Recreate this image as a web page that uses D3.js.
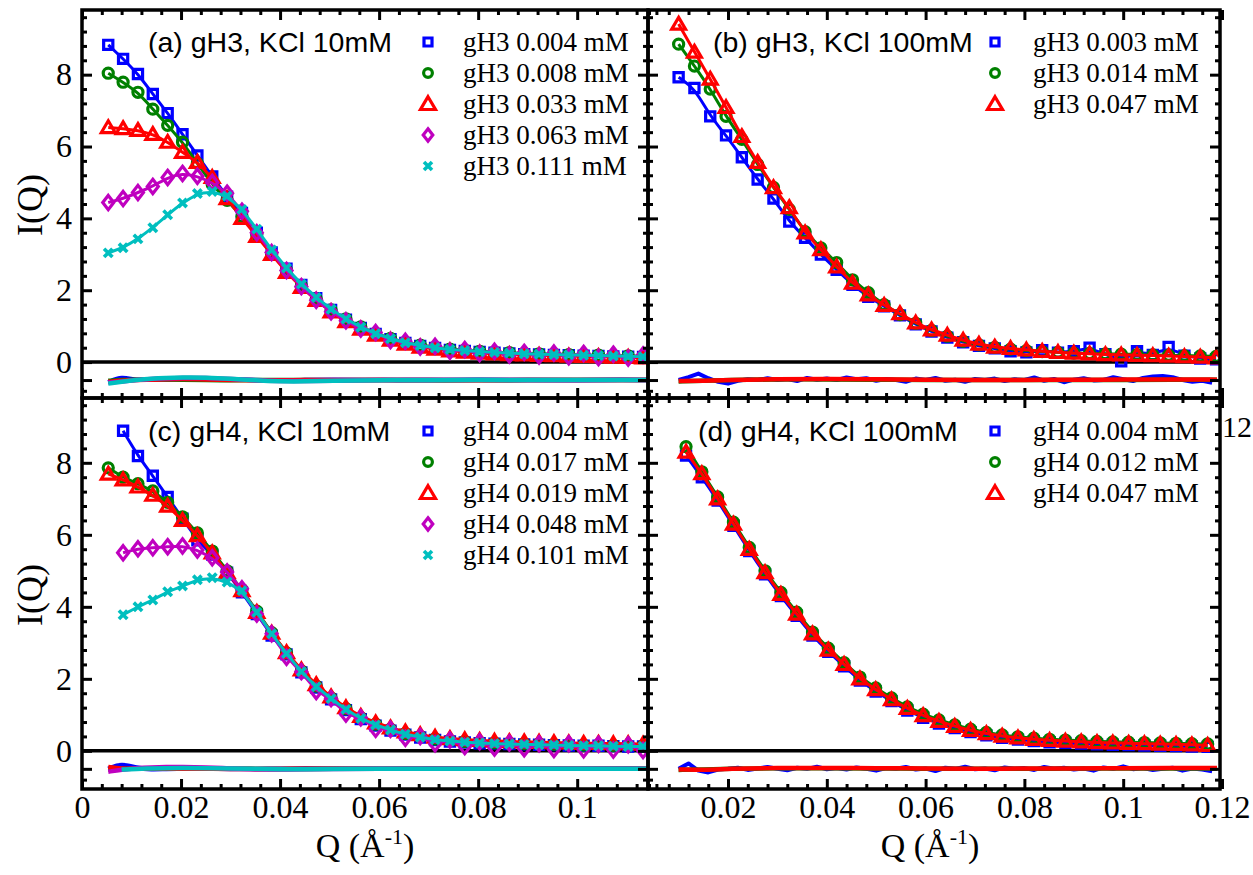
<!DOCTYPE html>
<html>
<head>
<meta charset="utf-8">
<script src="https://cdn.jsdelivr.net/npm/d3@7"></script>
<style>
  body { margin: 0; background: #fff; }
  svg { display: block; }
</style>
</head>
<body>
<svg id="chart" width="1253" height="875"></svg>
<script>
// ---- Q grids ----
const qLeft = [0.0053, 0.0083, 0.0113, 0.0143, 0.0173, 0.0203, 0.0233, 0.0263, 0.0293, 0.0323,
  0.0353, 0.0383, 0.0413, 0.0443, 0.0473, 0.0503, 0.0533, 0.0563, 0.0593, 0.0623,
  0.0653, 0.0683, 0.0713, 0.0743, 0.0773, 0.0803, 0.0833, 0.0863, 0.0893, 0.0923,
  0.0953, 0.0983, 0.1013, 0.1043, 0.1073, 0.1103, 0.1133];
const qRightB = [0.0100, 0.0132, 0.0164, 0.0196, 0.0228, 0.0260, 0.0292, 0.0324, 0.0356, 0.0388,
  0.0420, 0.0452, 0.0484, 0.0516, 0.0548, 0.0580, 0.0612, 0.0644, 0.0676, 0.0708,
  0.0740, 0.0772, 0.0804, 0.0836, 0.0868, 0.0900, 0.0932, 0.0964, 0.0996, 0.1028,
  0.1060, 0.1092, 0.1124, 0.1156, 0.1188];
const qRightD = [0.0115, 0.0147, 0.0179, 0.0211, 0.0243, 0.0275, 0.0307, 0.0339, 0.0371, 0.0403,
  0.0435, 0.0467, 0.0499, 0.0531, 0.0563, 0.0595, 0.0627, 0.0659, 0.0691, 0.0723,
  0.0755, 0.0787, 0.0819, 0.0851, 0.0883, 0.0915, 0.0947, 0.0979, 0.1011, 0.1043,
  0.1075, 0.1107, 0.1139, 0.1171];
const resQLeft = [0.0053, 0.008, 0.011, 0.014, 0.017, 0.02, 0.025, 0.03, 0.035, 0.04,
  0.045, 0.05, 0.06, 0.07, 0.08, 0.09, 0.1, 0.11, 0.1143];
const resQRightFine = [0.010, 0.012, 0.014, 0.016, 0.018, 0.020, 0.022, 0.024, 0.026, 0.028,
  0.030, 0.032, 0.034, 0.036, 0.038, 0.040, 0.042, 0.044, 0.046, 0.048,
  0.050, 0.052, 0.054, 0.056, 0.058, 0.060, 0.062, 0.064, 0.066, 0.068,
  0.070, 0.072, 0.074, 0.076, 0.078, 0.080, 0.082, 0.084, 0.086, 0.088,
  0.090, 0.092, 0.094, 0.096, 0.098, 0.100, 0.102, 0.104, 0.106, 0.108,
  0.110, 0.112, 0.114, 0.116, 0.118];
const resQRightCoarse = [0.010, 0.015, 0.02, 0.03, 0.04, 0.05, 0.06, 0.07, 0.08, 0.09, 0.1, 0.11, 0.119];

// ---- text ----
const titles = ['(a) gH3, KCl 10mM', '(b) gH3, KCl 100mM', '(c) gH4, KCl 10mM', '(d) gH4, KCl 100mM'];
const labelsA = ['gH3 0.004 mM', 'gH3 0.008 mM', 'gH3 0.033 mM', 'gH3 0.063 mM', 'gH3 0.111 mM'];
const labelsB = ['gH3 0.003 mM', 'gH3 0.014 mM', 'gH3 0.047 mM'];
const labelsC = ['gH4 0.004 mM', 'gH4 0.017 mM', 'gH4 0.019 mM', 'gH4 0.048 mM', 'gH4 0.101 mM'];
const labelsD = ['gH4 0.004 mM', 'gH4 0.012 mM', 'gH4 0.047 mM'];
const xTicksLeft = [0, 0.02, 0.04, 0.06, 0.08, 0.1];
const xTicksRight = [0.02, 0.04, 0.06, 0.08, 0.1, 0.12];
const yTicks = [0, 2, 4, 6, 8];

// ---- panel (a) ----
const aBlue = [8.83, 8.44, 8.02, 7.46, 6.93, 6.34, 5.75, 5.17, 4.6, 4.15, 3.6, 3.05, 2.6, 2.15, 1.78, 1.45, 1.18, 0.95,
  0.78, 0.64, 0.53, 0.45, 0.39, 0.34, 0.31, 0.28, 0.26, 0.24, 0.22, 0.21, 0.2, 0.19, 0.18, 0.17, 0.16, 0.15, 0.14];
const aGreen = [8.04, 7.79, 7.51, 7.04, 6.59, 6.12, 5.53, 4.94, 4.5, 4.05, 3.55, 3.0, 2.55, 2.12, 1.76, 1.45, 1.2, 0.98,
  0.8, 0.66, 0.55, 0.47, 0.41, 0.36, 0.33, 0.3, 0.28, 0.26, 0.24, 0.23, 0.22, 0.21, 0.2, 0.19, 0.18, 0.17, 0.16];
const aRed = [6.53, 6.5, 6.45, 6.34, 6.12, 5.84, 5.56, 5.14, 4.55, 4.0, 3.5, 3.0, 2.5, 2.08, 1.72, 1.4, 1.13, 0.92,
  0.75, 0.61, 0.5, 0.42, 0.36, 0.31, 0.28, 0.25, 0.23, 0.21, 0.2, 0.19, 0.18, 0.17, 0.16, 0.15, 0.14, 0.13, 0.12];
const aMagenta = [4.44, 4.55, 4.72, 4.89, 5.14, 5.25, 5.17, 5.0, 4.7, 4.2, 3.6, 3.05, 2.55, 2.1, 1.72, 1.4, 1.15, 0.92,
  0.82, 0.6, 0.58, 0.42, 0.44, 0.3, 0.35, 0.24, 0.3, 0.2, 0.27, 0.17, 0.25, 0.15, 0.24, 0.13, 0.22, 0.11, 0.2];
const aCyan = [3.04, 3.18, 3.43, 3.74, 4.1, 4.43, 4.69, 4.75, 4.62, 4.25, 3.7, 3.12, 2.62, 2.17, 1.8, 1.47, 1.2, 0.97,
  0.79, 0.65, 0.54, 0.46, 0.4, 0.35, 0.32, 0.29, 0.27, 0.25, 0.23, 0.22, 0.21, 0.2, 0.19, 0.18, 0.17, 0.16, 0.15];
const aResBlue = [-0.56, -0.4, -0.52, -0.47, -0.5, -0.46, -0.48, -0.5, -0.49, -0.52, -0.5, -0.49, -0.5, -0.51, -0.49, -0.5, -0.5, -0.49, -0.5];
const aResGreen = [-0.52, -0.5, -0.49, -0.48, -0.48, -0.49, -0.5, -0.51, -0.5, -0.5, -0.5, -0.51, -0.5, -0.5, -0.51, -0.5, -0.5, -0.5, -0.5];
const aResRed = [-0.55, -0.52, -0.5, -0.49, -0.48, -0.47, -0.48, -0.5, -0.51, -0.51, -0.5, -0.5, -0.5, -0.5, -0.5, -0.5, -0.5, -0.5, -0.5];
const aResMagenta = [-0.57, -0.54, -0.5, -0.47, -0.45, -0.44, -0.44, -0.47, -0.51, -0.53, -0.53, -0.52, -0.5, -0.49, -0.5, -0.5, -0.51, -0.5, -0.5];
const aResCyan = [-0.6, -0.55, -0.5, -0.46, -0.44, -0.43, -0.43, -0.46, -0.51, -0.54, -0.54, -0.52, -0.5, -0.5, -0.49, -0.5, -0.5, -0.5, -0.5];

// ---- panel (b) ----
const bBlue = [7.93, 7.63, 6.84, 6.31, 5.7, 5.08, 4.55, 3.91, 3.46, 2.99, 2.57, 2.15, 1.82, 1.55, 1.3, 1.05, 0.85, 0.68,
  0.55, 0.45, 0.38, 0.3, 0.27, 0.33, 0.26, 0.3, 0.4, 0.22, 0.02, 0.3, 0.2, 0.42, 0.18, 0.1, 0.08];
const bGreen = [8.85, 8.24, 7.6, 6.84, 6.2, 5.5, 4.86, 4.25, 3.63, 3.18, 2.77, 2.29, 1.93, 1.6, 1.32, 1.08, 0.88, 0.72,
  0.58, 0.48, 0.41, 0.36, 0.32, 0.29, 0.27, 0.25, 0.24, 0.23, 0.22, 0.21, 0.2, 0.19, 0.18, 0.17, 0.16];
const bRed = [9.41, 8.63, 7.88, 7.09, 6.28, 5.56, 4.86, 4.3, 3.6, 3.13, 2.65, 2.2, 1.87, 1.58, 1.35, 1.09, 0.9, 0.75,
  0.61, 0.5, 0.42, 0.38, 0.34, 0.3, 0.27, 0.25, 0.23, 0.21, 0.2, 0.19, 0.18, 0.17, 0.15, 0.14, 0.12];
const bResBlue = [-0.5, -0.42, -0.32, -0.45, -0.55, -0.6, -0.52, -0.48, -0.5, -0.45,
  -0.5, -0.47, -0.53, -0.44, -0.49, -0.46, -0.5, -0.43, -0.48, -0.45,
  -0.52, -0.47, -0.5, -0.55, -0.46, -0.5, -0.44, -0.52, -0.49, -0.55,
  -0.47, -0.5, -0.46, -0.53, -0.48, -0.5, -0.43, -0.52, -0.47, -0.56,
  -0.49, -0.45, -0.51, -0.5, -0.42, -0.48, -0.53, -0.44, -0.4, -0.39,
  -0.42, -0.5, -0.55, -0.52, -0.58];
const bResGreen = [-0.54, -0.52, -0.5, -0.48, -0.48, -0.49, -0.5, -0.5, -0.5, -0.5, -0.5, -0.49, -0.49];
const bResRed = [-0.53, -0.52, -0.5, -0.47, -0.47, -0.48, -0.49, -0.5, -0.5, -0.49, -0.49, -0.48, -0.49];

// ---- panel (c) ----
const cBlue = [null, 8.89, 8.19, 7.64, 7.05, 6.45, 5.85, 5.45, 4.95, 4.4, 3.8, 3.2, 2.68, 2.18, 1.76, 1.43, 1.13, 0.88,
  0.7, 0.56, 0.45, 0.37, 0.3, 0.26, 0.23, 0.21, 0.2, 0.19, 0.18, 0.17, 0.16, 0.15, 0.14, 0.14, 0.13, 0.12, 0.12];
const cGreen = [7.86, 7.6, 7.42, 7.22, 6.9, 6.5, 6.05, 5.55, 5.0, 4.48, 3.88, 3.28, 2.72, 2.22, 1.8, 1.47, 1.17, 0.92,
  0.74, 0.6, 0.48, 0.4, 0.33, 0.29, 0.26, 0.24, 0.22, 0.21, 0.2, 0.19, 0.18, 0.17, 0.16, 0.16, 0.15, 0.14, 0.14];
const cRed = [7.69, 7.53, 7.33, 7.1, 6.8, 6.4, 5.98, 5.5, 4.95, 4.45, 3.85, 3.27, 2.73, 2.25, 1.84, 1.5, 1.2, 0.96,
  0.78, 0.64, 0.53, 0.45, 0.38, 0.34, 0.31, 0.29, 0.27, 0.26, 0.25, 0.24, 0.23, 0.22, 0.21, 0.21, 0.2, 0.2, 0.19];
const cMagenta = [null, 5.5, 5.61, 5.64, 5.67, 5.69, 5.58, 5.36, 4.97, 4.5, 3.8, 3.25, 2.6, 2.2, 1.65, 1.45, 1.02, 0.92,
  0.6, 0.6, 0.35, 0.4, 0.2, 0.3, 0.12, 0.25, 0.08, 0.22, 0.06, 0.2, 0.04, 0.2, 0.03, 0.18, 0.02, 0.17, 0.01];
const cCyan = [null, 3.78, 4.0, 4.19, 4.42, 4.58, 4.75, 4.81, 4.69, 4.45, 3.85, 3.25, 2.7, 2.2, 1.78, 1.45, 1.15, 0.9,
  0.72, 0.58, 0.46, 0.38, 0.31, 0.27, 0.24, 0.22, 0.2, 0.19, 0.18, 0.17, 0.16, 0.15, 0.14, 0.14, 0.13, 0.12, 0.12];
const cResBlue = [-0.5, -0.35, -0.48, -0.52, -0.5, -0.5, -0.49, -0.51, -0.5, -0.5, -0.49, -0.5, -0.5, -0.48, -0.5, -0.49, -0.5, -0.48, -0.49];
const cResGreen = [-0.52, -0.5, -0.49, -0.49, -0.49, -0.5, -0.5, -0.5, -0.5, -0.51, -0.5, -0.5, -0.5, -0.5, -0.5, -0.5, -0.5, -0.5, -0.5];
const cResRed = [-0.45, -0.5, -0.5, -0.49, -0.49, -0.5, -0.5, -0.5, -0.51, -0.5, -0.5, -0.5, -0.5, -0.5, -0.5, -0.5, -0.5, -0.5, -0.5];
const cResMagenta = [-0.58, -0.52, -0.48, -0.46, -0.45, -0.45, -0.46, -0.49, -0.51, -0.52, -0.51, -0.5, -0.5, -0.5, -0.5, -0.5, -0.5, -0.5, -0.5];
const cResCyan = [null, -0.52, -0.5, -0.49, -0.48, -0.48, -0.48, -0.49, -0.5, -0.51, -0.51, -0.5, -0.5, -0.5, -0.5, -0.5, -0.5, -0.5, -0.5];

// ---- panel (d) ----
const dBlue = [8.2, 7.6, 6.95, 6.25, 5.55, 4.9, 4.3, 3.75, 3.2, 2.75, 2.35, 1.95, 1.65, 1.38, 1.12, 0.92, 0.76,
  0.63, 0.52, 0.43, 0.36, 0.31, 0.27, 0.24, 0.22, 0.2, 0.18, 0.17, 0.16, 0.15, 0.14, 0.13, 0.12, 0.11];
const dGreen = [8.45, 7.75, 7.05, 6.35, 5.65, 5.0, 4.4, 3.85, 3.3, 2.85, 2.45, 2.05, 1.75, 1.47, 1.22, 1.02, 0.86,
  0.72, 0.6, 0.51, 0.44, 0.39, 0.35, 0.32, 0.3, 0.28, 0.26, 0.25, 0.24, 0.23, 0.22, 0.21, 0.2, 0.19];
const dRed = [8.3, 7.7, 7.0, 6.3, 5.6, 4.95, 4.35, 3.8, 3.25, 2.8, 2.4, 2.0, 1.7, 1.42, 1.18, 0.98, 0.82,
  0.68, 0.57, 0.48, 0.41, 0.36, 0.32, 0.29, 0.27, 0.25, 0.23, 0.22, 0.21, 0.2, 0.19, 0.18, 0.17, 0.15];
const dResBlue = [-0.5, -0.35, -0.55, -0.6, -0.52, -0.5, -0.47, -0.53, -0.49, -0.45,
  -0.5, -0.54, -0.47, -0.5, -0.44, -0.51, -0.48, -0.52, -0.46, -0.5,
  -0.55, -0.48, -0.5, -0.45, -0.52, -0.49, -0.56, -0.47, -0.5, -0.44,
  -0.51, -0.49, -0.54, -0.46, -0.5, -0.48, -0.53, -0.45, -0.5, -0.47,
  -0.52, -0.49, -0.55, -0.46, -0.5, -0.43, -0.51, -0.48, -0.53, -0.5,
  -0.47, -0.55, -0.49, -0.52, -0.57];
const dResGreen = [-0.53, -0.52, -0.5, -0.48, -0.48, -0.49, -0.5, -0.5, -0.5, -0.49, -0.49, -0.49, -0.49];
const dResRed = [-0.52, -0.53, -0.5, -0.47, -0.48, -0.48, -0.49, -0.5, -0.49, -0.49, -0.48, -0.48, -0.48];

const colors = ['#0000ff', '#008000', '#ff0000', '#bf00bf', '#00bfbf'];
const shapes = ['square', 'circle', 'triangle', 'diamond', 'cross'];

const panels = [
  { title: titles[0], labels: labelsA, q: qLeft, vals: [aBlue, aGreen, aRed, aMagenta, aCyan],
    resQ: [resQLeft, resQLeft, resQLeft, resQLeft, resQLeft], res: [aResBlue, aResGreen, aResRed, aResMagenta, aResCyan],
    box: [82, 648, 10, 398], xDom: [0, 0.1143], yDom: [-1.0, 9.8], left: true, bottom: false,
    titleX: 148, legX: 428, textX: 463, rowY: 42 },
  { title: titles[1], labels: labelsB, q: qRightB, vals: [bBlue, bGreen, bRed],
    resQ: [resQRightFine, resQRightCoarse, resQRightCoarse], res: [bResBlue, bResGreen, bResRed],
    box: [648, 1220, 10, 398], xDom: [0.0038, 0.1196], yDom: [-1.0, 9.8], left: false, bottom: false,
    titleX: 713, legX: 995, textX: 1033, rowY: 42 },
  { title: titles[2], labels: labelsC, q: qLeft, vals: [cBlue, cGreen, cRed, cMagenta, cCyan],
    resQ: [resQLeft, resQLeft, resQLeft, resQLeft, resQLeft], res: [cResBlue, cResGreen, cResRed, cResMagenta, cResCyan],
    box: [82, 648, 398, 789], xDom: [0, 0.1143], yDom: [-1.06, 9.8], left: true, bottom: true,
    titleX: 148, legX: 428, textX: 463, rowY: 431 },
  { title: titles[3], labels: labelsD, q: qRightD, vals: [dBlue, dGreen, dRed],
    resQ: [resQRightFine, resQRightCoarse, resQRightCoarse], res: [dResBlue, dResGreen, dResRed],
    box: [648, 1220, 398, 789], xDom: [0.0038, 0.1196], yDom: [-1.06, 9.8], left: false, bottom: true,
    titleX: 698, legX: 995, textX: 1033, rowY: 431 }
];

const svg = d3.select('#chart');
const serif = "'Liberation Serif', 'Times New Roman', serif";
const sans = "'Liberation Sans', Arial, sans-serif";

function markerPath(shape, s) {
  if (shape === 'square') return `M${-s},${-s}H${s}V${s}H${-s}Z`;
  if (shape === 'circle') return d3.symbol(d3.symbolCircle, Math.PI * s * s * 1.2)();
  if (shape === 'triangle') return `M0,${-s * 1.45}L${s * 1.5},${s * 1.1}L${-s * 1.5},${s * 1.1}Z`;
  if (shape === 'diamond') return `M0,${-s * 1.55}L${s * 1.2},0L0,${s * 1.55}L${-s * 1.2},0Z`;
  return `M${-s},${-s}L${s},${s}M${s},${-s}L${-s},${s}`;
}

function fmtQ(d) { return d === 0 ? '0' : String(+d.toFixed(2)); }

panels.forEach((p, pi) => {
  const [x0, x1, y0, y1] = p.box;
  const x = d3.scaleLinear().domain(p.xDom).range([x0, x1]);
  const y = d3.scaleLinear().domain(p.yDom).range([y1, y0]);

  svg.append('clipPath').attr('id', 'clip' + pi)
    .append('rect').attr('x', x0).attr('y', y0).attr('width', x1 - x0).attr('height', y1 - y0);
  const plot = svg.append('g').attr('clip-path', `url(#clip${pi})`);

  // zero line
  plot.append('line')
    .attr('x1', x0).attr('x2', x1).attr('y1', y(0)).attr('y2', y(0))
    .attr('stroke', '#000').attr('stroke-width', 3.5);

  const line = d3.line().x(d => x(d[0])).y(d => y(d[1])).curve(d3.curveBasis);

  // data + fits
  p.vals.forEach((vals, si) => {
    const pts = p.q.map((q, i) => [q, vals[i]]).filter(d => d[1] != null);
    const col = colors[si];
    plot.selectAll(null).data(pts).enter().append('path')
      .attr('transform', d => `translate(${x(d[0])},${y(d[1])})`)
      .attr('d', markerPath(shapes[si], shapes[si] === 'cross' ? 4.2 : 4.6))
      .attr('fill', 'none').attr('stroke', col)
      .attr('stroke-width', shapes[si] === 'cross' ? 3.6 : 3.2);
    plot.append('path').datum(pts)
      .attr('d', line)
      .attr('fill', 'none').attr('stroke', col).attr('stroke-width', 3);
  });

  // residuals
  p.res.forEach((r, si) => {
    const pts = p.resQ[si].map((q, i) => [q, r[i]]).filter(d => d[1] != null);
    const fine = pts.length > 30;
    plot.append('path').datum(pts)
      .attr('d', d3.line().x(d => x(d[0])).y(d => y(d[1])).curve(fine ? d3.curveLinear : d3.curveBasis))
      .attr('fill', 'none').attr('stroke', colors[si])
      .attr('stroke-width', fine ? 4 : 4.5).attr('stroke-linejoin', 'round');
  });

  // axes: major ticks inside, minor ticks as short marks
  const minorX = d3.range(0, 0.1201, 0.004).filter(v => Math.abs(v / 0.02 - Math.round(v / 0.02)) > 1e-6);
  const minorY = d3.range(-0.8, 9.61, 0.4).filter(v => Math.abs(v / 2 - Math.round(v / 2)) > 1e-6 && Math.abs(v + 0.4) > 1e-6);
  const xMajor = p.left ? xTicksLeft : xTicksRight;
  const yMajor = [-0.5].concat(yTicks);

  const axes = [
    [d3.axisBottom(x).tickValues(xMajor).tickSizeInner(-10).tickSizeOuter(0).tickPadding(6)
      .tickFormat(p.bottom ? fmtQ : () => ''), 0, y1],
    [d3.axisBottom(x).tickValues(minorX).tickSizeInner(-5).tickSizeOuter(0).tickFormat(() => ''), 0, y1],
    [d3.axisTop(x).tickValues(xMajor).tickSizeInner(-10).tickSizeOuter(0).tickFormat(() => ''), 0, y0],
    [d3.axisTop(x).tickValues(minorX).tickSizeInner(-5).tickSizeOuter(0).tickFormat(() => ''), 0, y0],
    [d3.axisLeft(y).tickValues(yMajor).tickSizeInner(-10).tickSizeOuter(0).tickPadding(10)
      .tickFormat(d => (p.left && d !== -0.5) ? d : ''), x0, 0],
    [d3.axisLeft(y).tickValues(minorY).tickSizeInner(-5).tickSizeOuter(0).tickFormat(() => ''), x0, 0],
    [d3.axisRight(y).tickValues(yMajor).tickSizeInner(-10).tickSizeOuter(0).tickFormat(() => ''), x1, 0],
    [d3.axisRight(y).tickValues(minorY).tickSizeInner(-5).tickSizeOuter(0).tickFormat(() => ''), x1, 0]
  ];
  axes.forEach(([gen, tx, ty]) => {
    const g = svg.append('g').attr('transform', `translate(${tx},${ty})`).call(gen);
    g.select('.domain').remove();
    g.selectAll('.tick line').attr('stroke', '#000').attr('stroke-width', 3);
    g.selectAll('.tick text').attr('fill', '#000')
      .style('font-family', serif).style('font-size', '32px');
  });

  // frame
  svg.append('rect')
    .attr('x', x0).attr('y', y0).attr('width', x1 - x0).attr('height', y1 - y0)
    .attr('fill', 'none').attr('stroke', '#000').attr('stroke-width', 3.5);

  // title
  svg.append('text')
    .attr('x', p.titleX).attr('y', p.rowY).attr('dy', '0.35em')
    .style('font-family', sans).style('font-size', '28.5px').attr('fill', '#000')
    .text(p.title);

  // legend
  p.labels.forEach((lab, si) => {
    const ly = p.rowY + si * 31;
    svg.append('path')
      .attr('transform', `translate(${p.legX},${ly})`)
      .attr('d', markerPath(shapes[si], shapes[si] === 'triangle' ? 5 : 4))
      .attr('fill', 'none').attr('stroke', colors[si])
      .attr('stroke-width', shapes[si] === 'cross' ? 3.6 : 3.2);
    svg.append('text')
      .attr('x', p.textX).attr('y', ly).attr('dy', '0.35em')
      .style('font-family', serif).style('font-size', '27px').attr('fill', '#000')
      .text(lab);
  });
});

// leftover piece of the upper right panel's last tick label
svg.append('text').attr('x', 1222).attr('y', 437)
  .style('font-family', serif).style('font-size', '30px').attr('fill', '#000').text('12');

// axis titles
[205, 595].forEach(cy => {
  svg.append('text')
    .attr('transform', `translate(42,${cy}) rotate(-90)`)
    .attr('text-anchor', 'middle')
    .style('font-family', serif).style('font-size', '36px').attr('fill', '#000')
    .text('I(Q)');
});
[365, 930].forEach(cx => {
  const t = svg.append('text')
    .attr('x', cx).attr('y', 857).attr('text-anchor', 'middle')
    .style('font-family', serif).style('font-size', '34px').attr('fill', '#000');
  t.append('tspan').text('Q (Å');
  t.append('tspan').attr('dy', -13).style('font-size', '22px').text('-1');
  t.append('tspan').attr('dy', 13).text(')');
});
</script>
</body>
</html>
